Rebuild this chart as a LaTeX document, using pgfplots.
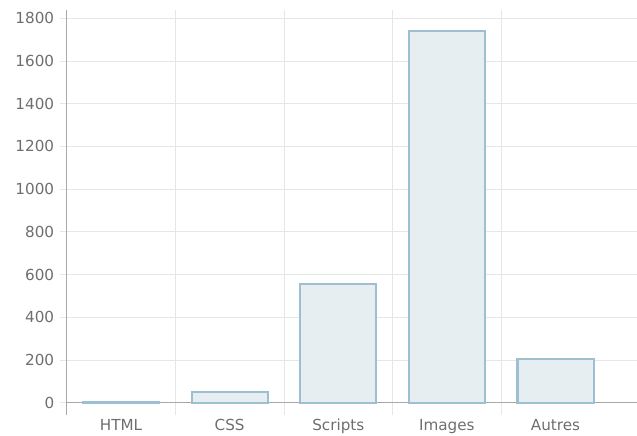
\documentclass[border=0pt]{standalone}
\usepackage{pgfplots}
\pgfplotsset{compat=1.18}
\usepackage{fontspec}
\setmainfont{DejaVu Sans}
\definecolor{barfill}{HTML}{E6EEF2}
\definecolor{baredge}{HTML}{9CBFD2}
\definecolor{gridc}{HTML}{E6E6E6}
\definecolor{axisc}{HTML}{A8A8A8}
\definecolor{textc}{HTML}{6E6E6E}
\begin{document}
\begin{tikzpicture}
\begin{axis}[
  scale only axis, width=570.3bp, height=405bp,
  at={(0,0)}, anchor=south west,
  xmin=-0.5, xmax=4.75, ymin=-58, ymax=1839,
  separate axis lines,
  axis x line*=bottom, axis y line*=left,
  x axis line style={draw=none},
  y axis line style={axisc, line width=0.9pt},
  ybar, bar width=0.70,
  xtick={0,1,2,3,4},
  xticklabels={HTML,CSS,Scripts,Images,Autres},
  x tick style={draw=none},
  minor xtick={0.5,1.5,2.5,3.5},
  xminorgrids, minor x tick style={draw=none},
  ytick={0,200,...,1800},
  ymajorgrids,
  grid style={gridc, line width=0.8pt},
  minor grid style={gridc, line width=0.8pt},
  y tick style={gridc, line width=0.8pt},
  major tick length=7bp,
  tick align=outside,
  extra y ticks={0},
  extra y tick labels={},
  extra y tick style={grid style={axisc, line width=0.9pt}, tick style={draw=none}},
  tick label style={font=\fontsize{15.2bp}{17bp}\selectfont, text=textc},
  xticklabel style={anchor=base, yshift=-8bp},
  yticklabel style={xshift=-2bp},
  /pgf/number format/assume math mode=true,
  /pgf/number format/1000 sep={},
]
\addplot[fill=barfill, draw=baredge, line width=2.1bp] coordinates {
  (0,3) (1,50) (2,555) (3,1742) (4,206)
};
\end{axis}
\pgfresetboundingbox
\path[use as bounding box] (-66.7bp,-21bp) rectangle (570.3bp,415bp);
\end{tikzpicture}
\end{document}
